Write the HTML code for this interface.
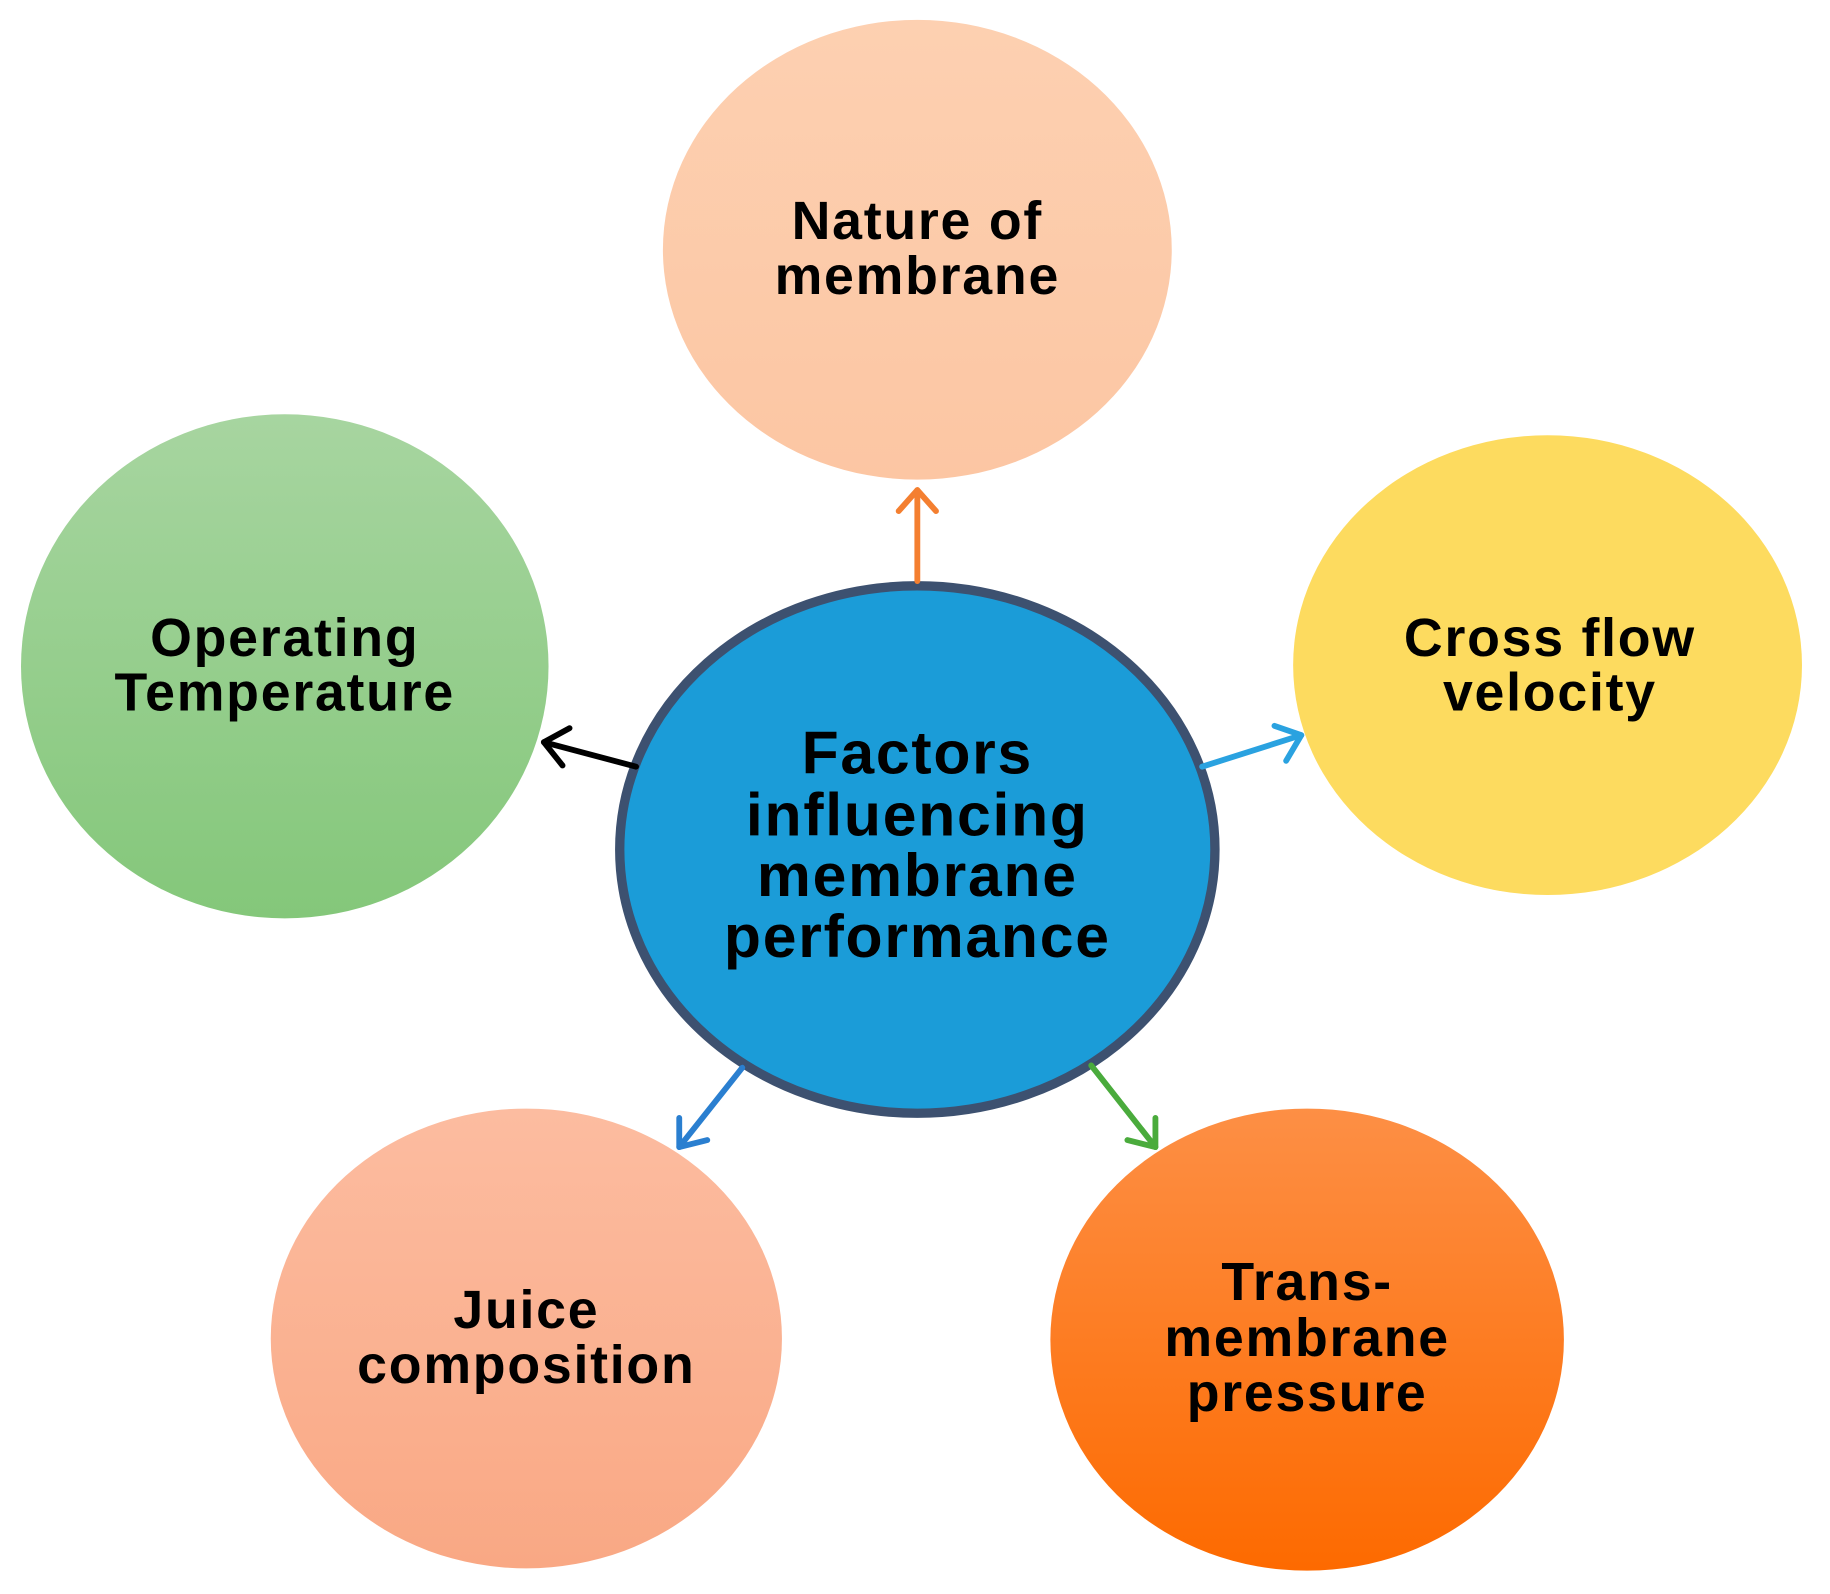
<!DOCTYPE html>
<html><head><meta charset="utf-8"><style>
html,body{margin:0;padding:0;background:#fff;}
svg{display:block;}
text{font-family:"Liberation Sans",Arial,sans-serif;font-weight:bold;fill:#000;text-anchor:middle;}
</style></head><body>
<svg width="1830" height="1594" viewBox="0 0 1568 1366" preserveAspectRatio="none" xmlns="http://www.w3.org/2000/svg">
<defs>
<linearGradient id="gG" x1="0" y1="0" x2="0" y2="1"><stop offset="0" stop-color="#a7d5a0"/><stop offset="1" stop-color="#84c77a"/></linearGradient>
<linearGradient id="gP" x1="0" y1="0" x2="0" y2="1"><stop offset="0" stop-color="#fdd0b1"/><stop offset="1" stop-color="#fcc6a3"/></linearGradient>
<linearGradient id="gJ" x1="0" y1="0" x2="0" y2="1"><stop offset="0" stop-color="#fcbca0"/><stop offset="1" stop-color="#f9a884"/></linearGradient>
<linearGradient id="gT" x1="0" y1="0" x2="0" y2="1"><stop offset="0" stop-color="#fd8f45"/><stop offset="1" stop-color="#fd6a00"/></linearGradient>
</defs>
<ellipse cx="786" cy="214" rx="218" ry="197" fill="url(#gP)"/>
<ellipse cx="244" cy="571" rx="226" ry="216" fill="url(#gG)"/>
<ellipse cx="1326" cy="570" rx="218" ry="197" fill="#fddb5f"/>
<ellipse cx="451" cy="1147" rx="219" ry="197" fill="url(#gJ)"/>
<ellipse cx="1120" cy="1148" rx="220" ry="198" fill="url(#gT)"/>
<ellipse cx="786" cy="728" rx="255" ry="226" fill="#1b9cd8" stroke="#3d5170" stroke-width="8"/>
<g fill="none" stroke-width="5" stroke-linecap="round" stroke-linejoin="round">
<g stroke="#f47f30"><line x1="786" y1="498" x2="786" y2="420"/><polyline points="770,438 786,420 802,438"/></g>
<g stroke="#000"><line x1="545" y1="657" x2="466" y2="636"/><polyline points="488,624 466,636 482,656"/></g>
<g stroke="#2aa2e0"><line x1="1030" y1="657" x2="1115" y2="630"/><polyline points="1092,622 1115,630 1102,652"/></g>
<g stroke="#2a7fd0"><line x1="636" y1="915" x2="582" y2="983"/><polyline points="582,958 582,983 606,977"/></g>
<g stroke="#4aab3c"><line x1="935" y1="913" x2="990" y2="983"/><polyline points="966,977 990,983 990,958"/></g>
</g>
<g font-size="46" letter-spacing="1.5">
<text x="786" y="205">Nature of</text><text x="786" y="252">membrane</text>
<text x="244" y="562">Operating</text><text x="244" y="609">Temperature</text>
<text x="1328" y="562">Cross flow</text><text x="1328" y="609">velocity</text>
<text x="451" y="1138">Juice</text><text x="451" y="1185">composition</text>
<text x="1120" y="1114">Trans-</text><text x="1120" y="1162">membrane</text><text x="1120" y="1209">pressure</text>
</g>
<g font-size="52" letter-spacing="1.5">
<text x="786" y="663">Factors</text><text x="786" y="716">influencing</text><text x="786" y="768">membrane</text><text x="786" y="820">performance</text>
</g>
</svg>
</body></html>
